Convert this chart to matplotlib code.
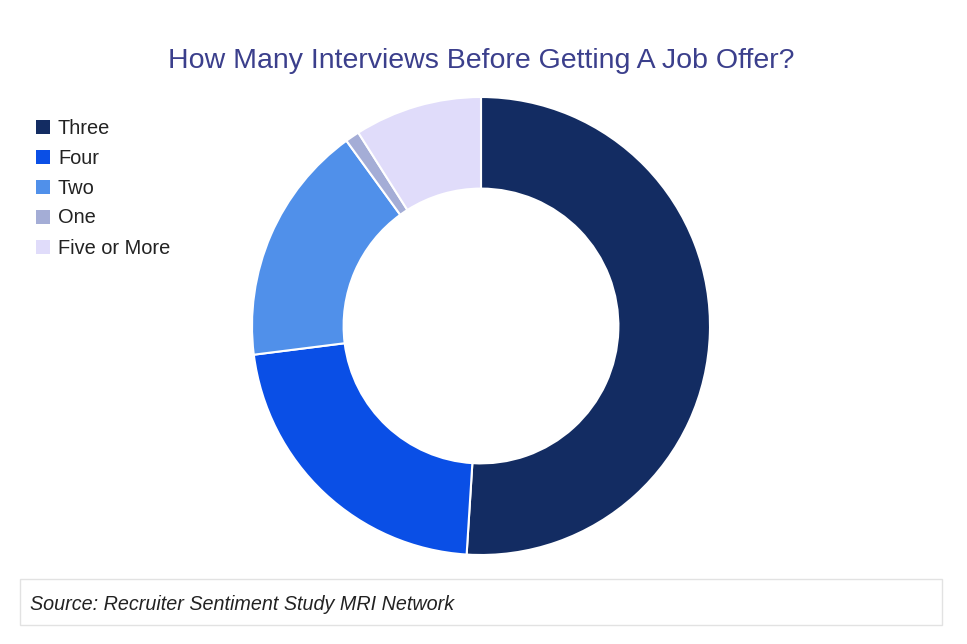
import matplotlib.pyplot as plt
from matplotlib.patches import Rectangle

# Data
labels = ['Three', 'Four', 'Two', 'One', 'Five or More']
shares = [51, 22, 17, 1, 9]
colors = ['#132c62', '#0a4fe6', '#5090ea', '#a4add6', '#e0dcfa']

title = 'How Many Interviews Before Getting A Job Offer?'
source = 'Source: Recruiter Sentiment Study MRI Network'

plt.rcParams['font.family'] = ['Liberation Sans', 'DejaVu Sans']

W, H = 967, 644
fig = plt.figure(figsize=(W / 100, H / 100), dpi=100)

# donut axes, centred at (481, 326) px with radius 229 px
cx, cy, r = 481, 326, 229
ax = fig.add_axes([(cx - r) / W, (H - cy - r) / H, 2 * r / W, 2 * r / H])
ax.pie(shares, colors=colors, startangle=90, counterclock=False, radius=1,
       wedgeprops=dict(width=0.4, edgecolor='white', linewidth=1.5))
ax.set_xlim(-1, 1)
ax.set_ylim(-1, 1)
ax.set_aspect('equal')
ax.axis('off')

# title
fig.text(cx / W, 1 - 61 / H, title, ha='center', va='center',
         fontsize=20.5, color='#3b3f8c')

# legend
for i, (lab, col) in enumerate(zip(labels, colors)):
    y = 127 + 30 * i
    fig.patches.append(Rectangle((36 / W, 1 - (y + 7) / H), 14 / W, 14 / H,
                                 transform=fig.transFigure, facecolor=col,
                                 edgecolor='none'))
    fig.text(58 / W, 1 - (y + 1) / H, lab, ha='left', va='center',
             fontsize=14.4, color='#222222')

# source box
fig.patches.append(Rectangle((20 / W, 1 - 625 / H), 922 / W, 46 / H,
                             transform=fig.transFigure, facecolor='white',
                             edgecolor='#e2e2e2', linewidth=1))
fig.text(30 / W, 1 - 604 / H, source, ha='left', va='center',
         fontsize=14.2, style='italic', color='#222222')

fig.savefig('out.png', dpi=100)
